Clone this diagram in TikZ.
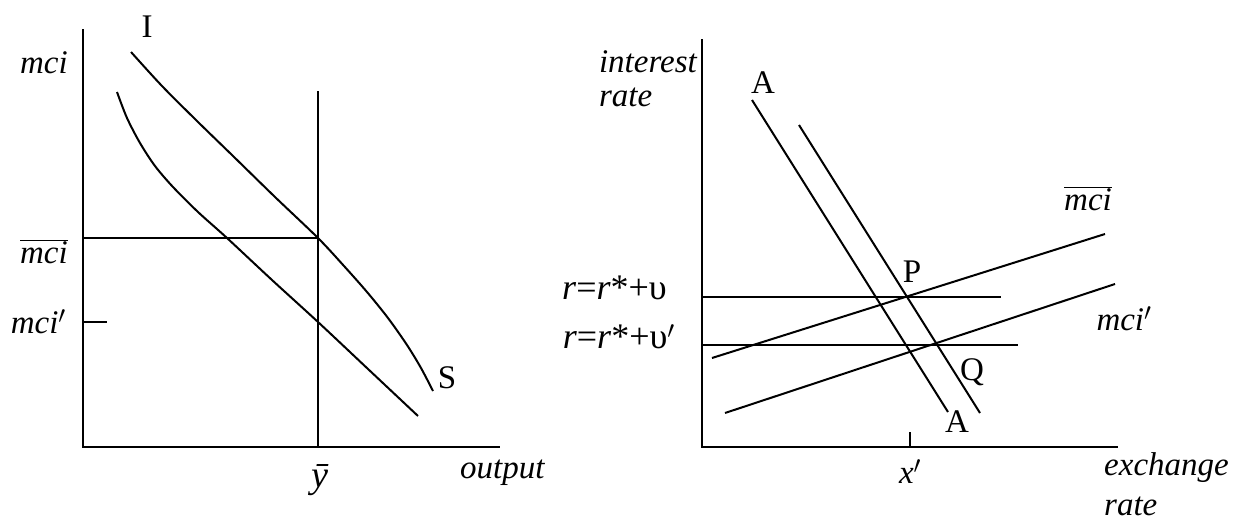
\documentclass[tikz,border=0pt]{standalone}
\usepackage{fontspec}
\setmainfont{Liberation Serif}
\usetikzlibrary{positioning}
\tikzset{
  axis/.style={draw=black, line width=2.4pt},
  curve/.style={draw=black, line width=2pt},
  lbl/.style={font=\fontsize{33}{36}\selectfont\itshape, inner sep=0pt},
  uplbl/.style={font=\fontsize{33}{36}\selectfont, inner sep=0pt}
}

\begin{document}
\begin{tikzpicture}[x=1pt,y=-1pt]
  \path[use as bounding box] (0,0) rectangle (1235,522);

  % left panel: output market
  \coordinate (oL) at (83,447);
  \coordinate (yTopL) at (83,29);
  \coordinate (xEndL) at (500,447);
  \coordinate (ybarTop) at (318,91);
  \coordinate (ybarBot) at (318,447);
  \coordinate (mciA) at (83,238);
  \coordinate (mciB) at (318,238);
  \coordinate (tickA) at (83,322);
  \coordinate (tickB) at (107,322);

  \draw[axis] (yTopL) -- (oL) -- (xEndL);
  \draw[curve] (ybarTop) -- (ybarBot);
  \draw[curve] (mciA) -- (mciB);
  \draw[curve] (tickA) -- (tickB);
  \draw[curve] plot[smooth] coordinates {(131,52) (162,86) (197,121) (233,156) (275,197) (318,238) (344,266) (367,292) (388,318) (407,345) (421,368) (433,391)};
  \draw[curve] plot[smooth] coordinates {(117,92) (127,118) (140,143) (155,166) (173,187) (198,212) (227,238) (272,280) (318,322) (368,369) (418,416)};

  \node[uplbl, anchor=base] (lblI) at (147,37) {I};
  \node[lbl, anchor=base east] (lblMci) at (68,73) {mci};
  \node[lbl, anchor=base east] (lblMciBar) at (68,263) {$\overline{\mbox{\itshape mci}}$};
  \node[lbl, anchor=base east] (lblMciP) at (66,333) {mci$'$};
  \node[lbl, anchor=base, font=\fontsize{38}{40}\selectfont\itshape] (lblYbar) at (320,487) {ȳ};
  \node[lbl, anchor=base west] (lblOutput) at (460,478) {output};
  \node[uplbl] (lblS) at (447,378) {S};

  % right panel: interest rate vs exchange rate
  \coordinate (oR) at (702,447);
  \coordinate (yTopR) at (702,39);
  \coordinate (xEndR) at (1118,447);
  \coordinate (aaTop) at (752,100);
  \coordinate (aaBot) at (948,412);
  \coordinate (abTop) at (799,125);
  \coordinate (abBot) at (980,413);
  \coordinate (rA) at (702,297);
  \coordinate (rB) at (1001,297);
  \coordinate (rpA) at (702,345);
  \coordinate (rpB) at (1018,345);
  \coordinate (mbA) at (712,358);
  \coordinate (mbB) at (1105,234);
  \coordinate (mpA) at (725,413);
  \coordinate (mpB) at (1115,284);
  \coordinate (xtA) at (910,432);
  \coordinate (xtB) at (910,447);

  \draw[axis] (yTopR) -- (oR) -- (xEndR);
  \draw[curve] (aaTop) -- (aaBot);
  \draw[curve] (abTop) -- (abBot);
  \draw[curve] (rA) -- (rB);
  \draw[curve] (rpA) -- (rpB);
  \draw[curve] (mbA) -- (mbB);
  \draw[curve] (mpA) -- (mpB);
  \draw[curve] (xtA) -- (xtB);

  \node[lbl, anchor=base east] (lblInterest) at (697,72) {interest};
  \node[lbl, anchor=base west] (lblRateL) at (lblInterest.base west) [yshift=-34pt] {rate};
  \node[uplbl, anchor=base east, font=\fontsize{36}{38}\selectfont] (lblR) at (667,299) {\textit{r}=\textit{r}*+υ};
  \node[uplbl, anchor=base east, font=\fontsize{36}{38}\selectfont] (lblRp) at (675,348) {\textit{r}=\textit{r}*+υ$'$};
  \node[uplbl, anchor=base] (lblAtop) at (763,93) {A};
  \node[uplbl, anchor=base] (lblP) at (912,282) {P};
  \node[uplbl, anchor=base] (lblQ) at (972,380) {Q};
  \node[uplbl, anchor=base] (lblAbot) at (957,432) {A};
  \node[lbl, anchor=base] (lblMciBarR) at (1088,210) {$\overline{\mbox{\itshape mci}}$};
  \node[lbl, anchor=base] (lblMciPR) at (1124,330) {mci$'$};
  \node[lbl, anchor=base] (lblXp) at (910,483) {x$'$};
  \node[lbl, anchor=base west] (lblExch) at (1104,475) {exchange};
  \node[lbl, anchor=base west] (lblRateR) at (1104,515) {rate};
\end{tikzpicture}
\end{document}
